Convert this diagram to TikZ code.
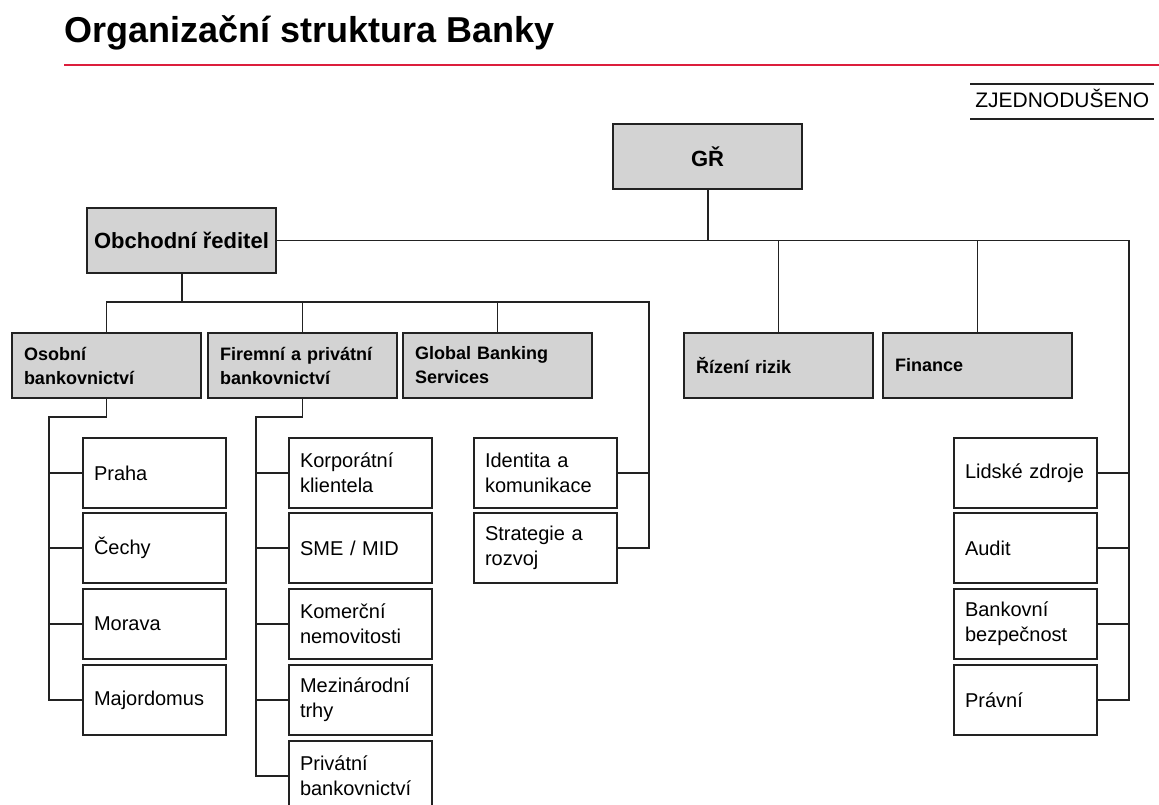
\documentclass[tikz,border=0pt]{standalone}
\usepackage{fontspec}
\setmainfont{Liberation Sans}
\usepackage{tikz}
\usetikzlibrary{calc}
\definecolor{pgray}{HTML}{D3D3D3}
\definecolor{pline}{HTML}{222222}
\definecolor{pred}{HTML}{DC1E3C}
\tikzset{
  % coordinates are in px of the slide (1px = 0.75pt), y grows downwards
  head/.style = {rectangle, draw=pline, fill=pgray, line width=1.5pt, inner sep=0pt,
                 minimum width=141.75pt, minimum height=48.75pt, align=center,
                 font=\fontsize{16.5}{20}\selectfont\bfseries},
  unit/.style = {rectangle, draw=pline, fill=pgray, line width=1.5pt, inner xsep=9pt,
                 inner ysep=0pt, text width=123.75pt, minimum height=48.75pt, align=left,
                 font=\fontsize{13.5}{18}\selectfont\bfseries},
  kid/.style  = {rectangle, draw=pline, fill=white, line width=1.5pt, inner xsep=8.25pt,
                 inner ysep=0pt, text width=90.75pt, minimum height=52.5pt, align=left,
                 font=\fontsize{15}{18.75}\selectfont},
  conn/.style = {line width=1.1pt, pline},
  bus/.style  = {line width=1.5pt, pline},
  rule/.style = {line width=1.1pt, pline},
}

\begin{document}
\begin{tikzpicture}[x=0.75pt,y=-0.75pt]
\useasboundingbox (0,0) rectangle (1159,805);
% title
\node[anchor=base west, inner sep=0pt, font=\fontsize{27}{32}\selectfont\bfseries]
     (title) at (64,43) {Organizační struktura Banky};
\draw[line width=1.5pt, pred] (64,65) -- (1165,65);
\node[anchor=base west, inner sep=0pt, font=\fontsize{15.75}{18}\selectfont]
     (zjed) at (975,108) {ZJEDNODUŠENO};
\draw[rule] (970,84) -- (1154,84);
\draw[rule] (970,119) -- (1154,119);

% top management
\node[head, anchor=north west] (gr)   at (612,123) {GŘ};
\node[head, anchor=north west] (obch) at (86,207)  {Obchodní ředitel};

% divisions
\node[unit, anchor=north west] (osob)   at (11,332)  {Osobní\\bankovnictví};
\node[unit, anchor=north west] (firm)   at (207,332) {Firemní a privátní\\bankovnictví};
\node[unit, anchor=north west] (glob)   at (402,332) {Global Banking\\Services};
\node[unit, anchor=north west] (rizeni) at (683,332) {Řízení rizik};
\node[unit, anchor=north west] (fin)    at (882,332) {Finance};

% departments
\foreach \nm/\txt/\yy in {praha/Praha/437, cechy/Čechy/512, morava/Morava/588,
                          major/Majordomus/664}
  \node[kid, anchor=north west] (\nm) at (82,\yy) {\txt};
\foreach \nm/\txt/\yy in {korp/{Korporátní\\klientela}/437, sme/{SME / MID}/512,
                          komer/{Komerční\\nemovitosti}/588, mezin/{Mezinárodní\\trhy}/664,
                          priv/{Privátní\\bankovnictví}/740}
  \node[kid, anchor=north west] (\nm) at (288,\yy) {\txt};
\node[kid, anchor=north west] (ident) at (473,437) {Identita a\\komunikace};
\node[kid, anchor=north west] (strat) at (473,512) {Strategie a\\rozvoj};
\foreach \nm/\txt/\yy in {lidske/{Lidské zdroje}/437, audit/Audit/512,
                          bezp/{Bankovní\\bezpečnost}/588, pravni/Právní/664}
  \node[kid, anchor=north west] (\nm) at (953,\yy) {\txt};

% GŘ lines
\coordinate (rx) at (1129,0);
\coordinate (rtrunk) at (obch.east -| rx);
\draw[bus] (gr.south) -- (gr.south |- obch.east);
\draw[conn] (obch.east) -- (rtrunk) -- (rtrunk |- pravni.east) -- (pravni.east);
\foreach \nm in {lidske,audit,bezp}
  \draw[conn] (\nm.east) -- (\nm.east -| rtrunk);
\draw[conn] (rizeni.north) -- (rizeni.north |- rtrunk);
\draw[conn] (fin.north) -- (fin.north |- rtrunk);

% Obchodni reditel lines
\coordinate (oy) at (0,302);
\coordinate (obus) at (obch.south |- oy);
\coordinate (otrunk) at (649,302);
\draw[bus] (obch.south) -- (obus);
\draw[conn] (osob.north) |- (obus);
\draw[conn] (firm.north) |- (obus);
\draw[conn] (glob.north) |- (obus);
\draw[conn] (obus) -- (otrunk) -- (otrunk |- strat.east) -- (strat.east);
\draw[conn] (ident.east) -- (ident.east -| otrunk);

% Osobni bankovnictvi lines
\coordinate (ostrunk) at (49,417);
\draw[conn] (osob.south) |- (ostrunk) -- (ostrunk |- major.west) -- (major.west);
\foreach \nm in {praha,cechy,morava}
  \draw[conn] (\nm.west) -- (\nm.west -| ostrunk);

% Firemni a privatni bankovnictvi lines
\coordinate (ftrunk) at (256,417);
\draw[conn] (firm.south) |- (ftrunk) -- (ftrunk |- priv.west) -- (priv.west);
\foreach \nm in {korp,sme,komer,mezin}
  \draw[conn] (\nm.west) -- (\nm.west -| ftrunk);
\end{tikzpicture}
\end{document}
